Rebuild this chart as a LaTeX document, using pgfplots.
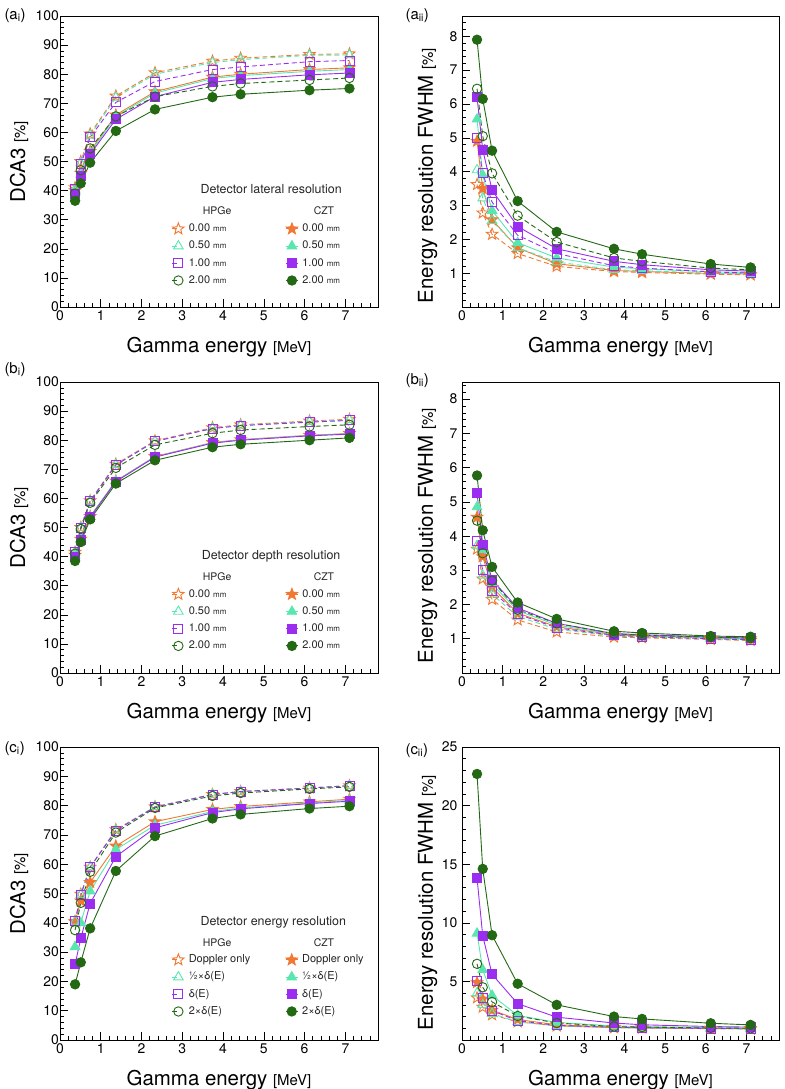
\documentclass[border=0pt]{standalone}
\usepackage{pgfplots}
\pgfplotsset{compat=1.18}
\usepackage{pgfplotstable}
\usepackage{fontspec}
\setmainfont{TeX Gyre Heros}
\usetikzlibrary{plotmarks}

\definecolor{cor}{RGB}{240,120,50}
\definecolor{caq}{RGB}{90,230,175}
\definecolor{cpu}{RGB}{155,45,240}
\definecolor{cgr}{RGB}{35,105,20}

\newcommand{\starpath}{%
  \pgfpathmoveto{\pgfqpointpolar{90}{\pgfplotmarksize}}%
  \pgfpathlineto{\pgfqpointpolar{126}{0.42\pgfplotmarksize}}%
  \pgfpathlineto{\pgfqpointpolar{162}{\pgfplotmarksize}}%
  \pgfpathlineto{\pgfqpointpolar{198}{0.42\pgfplotmarksize}}%
  \pgfpathlineto{\pgfqpointpolar{234}{\pgfplotmarksize}}%
  \pgfpathlineto{\pgfqpointpolar{270}{0.42\pgfplotmarksize}}%
  \pgfpathlineto{\pgfqpointpolar{306}{\pgfplotmarksize}}%
  \pgfpathlineto{\pgfqpointpolar{342}{0.42\pgfplotmarksize}}%
  \pgfpathlineto{\pgfqpointpolar{18}{\pgfplotmarksize}}%
  \pgfpathlineto{\pgfqpointpolar{54}{0.42\pgfplotmarksize}}%
  \pgfpathclose}
\pgfdeclareplotmark{fstar}{\starpath\pgfusepathqstroke}
\pgfdeclareplotmark{fstar*}{\starpath\pgfusepathqfillstroke}

\newcommand{\mmf}{\fontsize{8}{8}\selectfont}

\pgfplotsset{
  hpge/.style={#1, line width=0.9bp, dash pattern=on 5bp off 3bp,
    legend image code/.code={\draw[mark repeat=2,mark phase=2,##1] plot coordinates {(0bp,0bp) (6bp,0bp)}; \path (12bp,0bp);}},
  czt/.style={#1, line width=0.9bp, solid},
  hs/.style={hpge=cor, mark=fstar, mark size=6bp, mark options={solid}},
  cs/.style={czt=cor, mark=fstar*, mark size=6bp, mark options={fill=cor}},
  ht/.style={hpge=caq, mark=triangle, mark size=5.5bp, mark options={solid}},
  ct/.style={czt=caq, mark=triangle*, mark size=5.5bp, mark options={fill=caq}},
  hq/.style={hpge=cpu, mark=square, mark size=4.5bp, mark options={solid}},
  cq/.style={czt=cpu, mark=square*, mark size=4.5bp, mark options={fill=cpu}},
  hc/.style={hpge=cgr, mark=o, mark size=4.7bp, mark options={solid}},
  cc/.style={czt=cgr, mark=*, mark size=4.7bp, mark options={fill=cgr}},
  panel/.style={
    scale only axis, width=318bp, height=291bp, anchor=south west,
    xmin=0, xmax=7.8,
    xtick={0,1,...,7}, minor xtick={0,0.2,...,7.8},
    tick align=inside, xtick pos=bottom, ytick pos=left,
    major tick length=8bp, minor tick length=4bp,
    every tick/.style={black, line width=0.6bp},
    axis line style={line width=0.8bp},
    tick label style={font=\fontsize{14}{14}\selectfont},
    /pgf/number format/assume math mode=true,
    xlabel={Gamma energy {\fontsize{15}{15}\selectfont [MeV]}},
    xlabel style={font=\fontsize{20.5}{20.5}\selectfont, at={(axis description cs:0.5,0)}, anchor=base, yshift=-45bp},
    ylabel style={font=\fontsize{20.5}{20.5}\selectfont},
  },
  lpanel/.style={panel, ymin=0, ymax=100, ytick={0,10,...,100}, minor ytick={0,2,...,100},
    ylabel={DCA3 {\fontsize{15}{15}\selectfont [\%]}},
    ylabel style={at={(axis description cs:-0.110,0.5)}, anchor=base},
    yticklabel style={xshift=2.5bp}},
  rpanel/.style={panel, width=317bp, ymin=0,
    ylabel={Energy resolution FWHM {\fontsize{15}{15}\selectfont [\%]}},
    ylabel style={at={(axis description cs:-0.0915,#1)}, anchor=base},
    yticklabel style={xshift=-1bp}},
  leg/.style 2 args={legend columns=2, legend cell align=left,
    legend style={draw=none, fill=none, inner sep=0pt, outer sep=0pt,
      at={(0.352,#1)}, anchor=north west,
      font=\fontsize{11}{11}\selectfont, text=black!85,
      column sep=3bp, row sep=5.7bp,
      nodes={inner sep=1bp, text height=7.5bp, text depth=2bp},
      /tikz/every even column/.append style={column sep=#2}},
    legend image code/.code={\draw[mark repeat=2,mark phase=2,##1] plot coordinates {(0bp,0bp) (6bp,0bp) (12bp,0bp)};}},
}

\newcommand{\plotall}[1]{%
  \addplot[hs] table[x=E,y=h0]{#1};
  \addplot[cs] table[x=E,y=c0]{#1};
  \addplot[ht] table[x=E,y=h05]{#1};
  \addplot[ct] table[x=E,y=c05]{#1};
  \addplot[hq] table[x=E,y=h1]{#1};
  \addplot[cq] table[x=E,y=c1]{#1};
  \addplot[hc] table[x=E,y=h2]{#1};
  \addplot[cc] table[x=E,y=c2]{#1};
}

\pgfplotstableread{
E h0 h05 h1 h2 c0 c05 c1 c2
0.37 41.0 40.5 40.5 39.0 40.0 39.5 39.0 36.5
0.51 50.0 49.5 49.0 47.0 46.0 45.5 45.0 42.5
0.74 59.5 59.0 58.3 54.5 53.5 53.0 52.5 49.6
1.37 72.5 72.0 70.3 65.5 66.0 65.5 64.5 60.5
2.33 80.5 80.0 77.5 72.3 74.0 73.5 72.3 67.9
3.74 84.5 84.0 81.6 75.8 79.0 78.5 77.2 72.1
4.43 85.5 85.0 82.5 76.8 80.0 79.5 78.2 73.1
6.12 86.8 86.5 84.3 78.0 81.6 81.0 79.8 74.5
7.10 87.0 86.6 84.7 78.7 82.2 81.6 80.4 75.1
}\tai
\pgfplotstableread{
E h0 h05 h1 h2 c0 c05 c1 c2
0.37 3.62 4.05 5.00 6.45 4.90 5.55 6.20 7.90
0.51 2.78 3.22 3.95 5.05 3.50 3.90 4.65 6.15
0.74 2.15 2.55 3.10 3.95 2.58 2.85 3.45 4.62
1.37 1.58 1.75 2.12 2.70 1.75 1.90 2.38 3.13
2.33 1.20 1.33 1.58 1.92 1.28 1.45 1.72 2.22
3.74 1.05 1.10 1.22 1.45 1.08 1.18 1.35 1.72
4.43 1.02 1.07 1.15 1.35 1.05 1.13 1.25 1.56
6.12 0.97 1.00 1.04 1.15 0.99 1.04 1.10 1.27
7.10 0.95 0.98 1.00 1.10 0.97 1.02 1.06 1.17
}\taii
\pgfplotstableread{
E h0 h05 h1 h2 c0 c05 c1 c2
0.37 41.5 41.5 41.5 41.0 40.5 40.5 40.0 38.5
0.51 50.0 50.0 50.0 49.5 46.0 46.0 45.8 45.0
0.74 59.2 59.0 59.0 58.5 53.8 53.7 53.5 52.8
1.37 71.8 71.6 71.5 70.5 66.0 66.0 65.8 65.1
2.33 79.8 79.6 79.6 78.4 74.4 74.3 74.2 73.1
3.74 84.3 84.1 84.0 82.4 79.2 79.1 79.0 77.6
4.43 85.3 85.1 85.0 83.5 80.2 80.1 80.0 78.6
6.12 86.6 86.4 86.2 84.7 81.7 81.6 81.5 80.0
7.10 87.2 87.0 86.8 85.3 82.3 82.2 82.1 80.8
}\tbi
\pgfplotstableread{
E h0 h05 h1 h2 c0 c05 c1 c2
0.37 3.62 3.72 3.85 4.45 4.55 4.85 5.25 5.77
0.51 2.75 2.85 3.00 3.50 3.40 3.60 3.75 4.17
0.74 2.15 2.30 2.40 2.70 2.50 2.60 2.72 3.10
1.37 1.55 1.65 1.72 1.85 1.75 1.82 1.90 2.06
2.33 1.20 1.28 1.32 1.45 1.35 1.40 1.45 1.58
3.74 1.05 1.08 1.10 1.15 1.12 1.13 1.15 1.22
4.43 1.03 1.05 1.06 1.10 1.08 1.10 1.12 1.17
6.12 0.98 1.00 1.00 1.05 1.02 1.03 1.05 1.08
7.10 0.95 0.97 0.97 1.02 1.00 1.00 1.02 1.06
}\tbii
\pgfplotstableread{
E h0 h05 h1 h2 c0 c05 c1 c2
0.37 40.5 40.5 40.5 37.5 40.3 31.8 25.8 19.0
0.51 49.8 49.6 49.5 46.8 47.5 40.0 34.7 26.5
0.74 59.0 59.0 59.0 57.4 53.8 50.8 46.6 38.1
1.37 71.8 71.6 71.5 70.8 66.2 65.0 62.6 57.7
2.33 79.6 79.6 79.5 79.2 74.5 73.3 72.4 69.6
3.74 83.8 83.8 83.8 83.3 78.7 78.0 77.6 75.6
4.43 84.8 84.8 84.8 84.3 79.7 79.2 78.9 77.0
6.12 86.0 86.0 86.0 85.7 81.3 80.9 80.7 79.0
7.10 86.8 86.8 86.8 86.4 82.2 81.8 81.5 79.8
}\tci
\pgfplotstableread{
E h0 h05 h1 h2 c0 c05 c1 c2
0.37 3.60 4.00 5.00 6.50 4.90 9.10 13.80 22.70
0.51 2.80 3.00 3.60 4.50 3.50 6.00 8.90 14.60
0.74 2.15 2.25 2.50 3.25 2.55 3.80 5.60 8.94
1.37 1.55 1.55 1.65 2.05 1.75 2.10 3.10 4.80
2.33 1.20 1.20 1.25 1.45 1.30 1.50 1.95 3.00
3.74 1.05 1.05 1.08 1.15 1.10 1.20 1.45 2.00
4.43 1.02 1.02 1.05 1.10 1.05 1.15 1.30 1.80
6.12 0.97 0.97 0.98 1.03 1.00 1.05 1.15 1.43
7.10 0.95 0.95 0.95 1.00 0.98 1.02 1.10 1.29
}\tcii

\begin{document}
\begin{tikzpicture}
\useasboundingbox (0,0) rectangle (785bp,-1089bp);
\tikzset{plab/.style={anchor=base west, font=\fontsize{15}{15}\selectfont},
  ltitle/.style={font=\fontsize{12.5}{12.5}\selectfont, text=black!85},
  lhead/.style={font=\fontsize{10.5}{10.5}\selectfont, text=black!85}}

% (a_i)
\begin{axis}[lpanel, at={(60bp,-307bp)}, leg={0.289}{58bp},
  legend entries={0.00 {\mmf mm},0.00 {\mmf mm},0.50 {\mmf mm},0.50 {\mmf mm},1.00 {\mmf mm},1.00 {\mmf mm},2.00 {\mmf mm},2.00 {\mmf mm}}]
\plotall{\tai}
\node[ltitle] at (rel axis cs:0.664,0.405) {Detector lateral resolution};
\node[lhead] at (rel axis cs:0.494,0.33) {HPGe};
\node[lhead] at (rel axis cs:0.830,0.33) {CZT};
\end{axis}
\node[plab] at (1bp,-19bp) {(a\textsubscript{i})};

% (a_ii)
\begin{axis}[rpanel=0.452, at={(462bp,-307bp)}, ymax=8.6, ytick={1,...,8}, minor ytick={0,0.2,...,8.6}]
\plotall{\taii}
\end{axis}
\node[plab] at (402bp,-19bp) {(a\textsubscript{ii})};

% (b_i)
\begin{axis}[lpanel, at={(60bp,-673bp)}, leg={0.291}{58bp},
  legend entries={0.00 {\mmf mm},0.00 {\mmf mm},0.50 {\mmf mm},0.50 {\mmf mm},1.00 {\mmf mm},1.00 {\mmf mm},2.00 {\mmf mm},2.00 {\mmf mm}}]
\plotall{\tbi}
\node[ltitle] at (rel axis cs:0.664,0.402) {Detector depth resolution};
\node[lhead] at (rel axis cs:0.494,0.33) {HPGe};
\node[lhead] at (rel axis cs:0.830,0.33) {CZT};
\end{axis}
\node[plab] at (1bp,-373bp) {(b\textsubscript{i})};

% (b_ii)
\begin{axis}[rpanel=0.472, at={(462bp,-673bp)}, ymax=8.5, ytick={1,...,8}, minor ytick={0,0.2,...,8.4}]
\plotall{\tbii}
\end{axis}
\node[plab] at (402bp,-384bp) {(b\textsubscript{ii})};

% (c_i)
\begin{axis}[lpanel, at={(60bp,-1040bp)}, height=293bp, leg={0.294}{34bp},
  legend entries={Doppler only,Doppler only,½×δ(E),½×δ(E),δ(E),δ(E),2×δ(E),2×δ(E)}]
\plotall{\tci}
\node[ltitle] at (rel axis cs:0.671,0.40) {Detector energy resolution};
\node[lhead] at (rel axis cs:0.494,0.333) {HPGe};
\node[lhead] at (rel axis cs:0.830,0.333) {CZT};
\end{axis}
\node[plab] at (1bp,-752bp) {(c\textsubscript{i})};

% (c_ii)
\begin{axis}[rpanel=0.469, at={(462bp,-1040bp)}, height=293bp, ymax=25, ytick={5,10,...,25}, minor ytick={0,1,...,25}]
\plotall{\tcii}
\end{axis}
\node[plab] at (402bp,-754bp) {(c\textsubscript{ii})};
\end{tikzpicture}
\end{document}
